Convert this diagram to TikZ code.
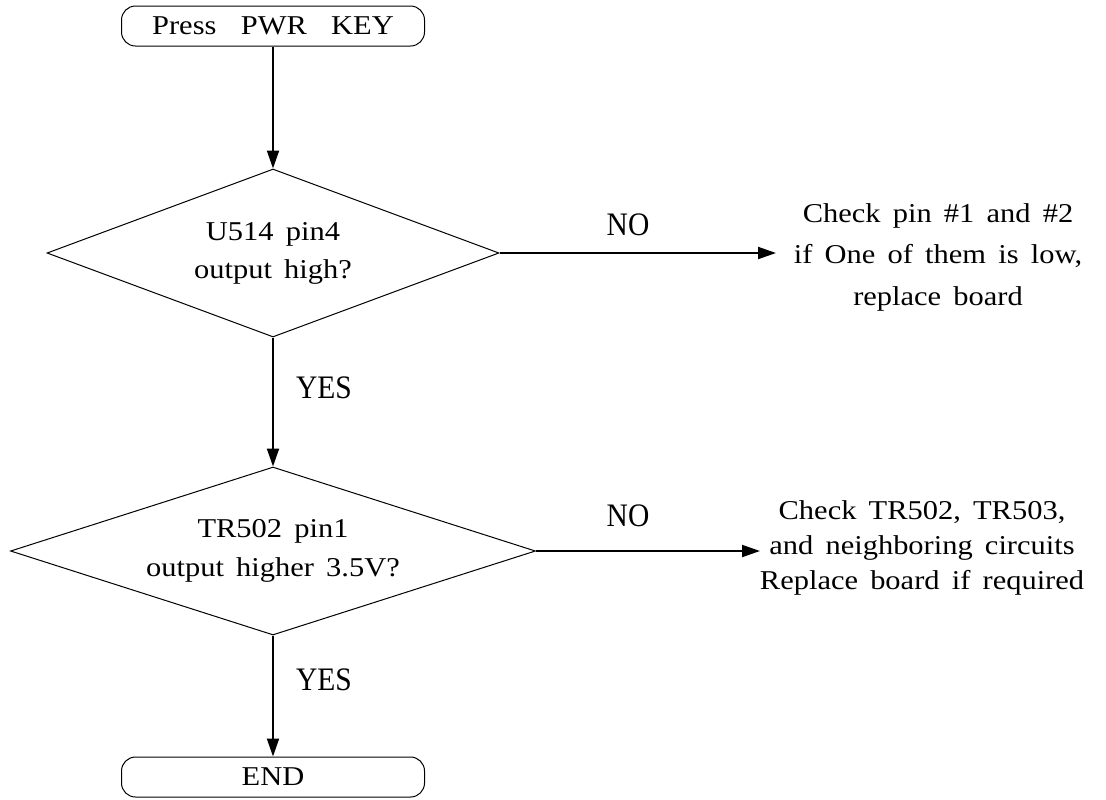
\documentclass[tikz,border=0pt]{standalone}
\usepackage{fontspec}
\setmainfont[FakeStretch=1.12,WordSpace=1.6]{Liberation Serif}
\newfontfamily\lblfont[FakeStretch=0.9]{Liberation Serif}
\usetikzlibrary{shapes.geometric,arrows.meta}
\tikzstyle{every node}=[font=\fontsize{13.6}{19}\selectfont]
\tikzstyle{term}=[draw,line width=0.5pt,rounded corners=7pt,minimum width=151.5pt,minimum height=20pt,inner sep=0pt]
\tikzstyle{decide}=[draw,diamond,line width=0.5pt,inner sep=0pt,align=center,minimum height=84pt]
\tikzstyle{act}=[align=center,inner sep=1pt]
\tikzstyle{lbl}=[font=\lblfont\fontsize{16.4}{18}\selectfont]
\tikzstyle{arr}=[-{Triangle[length=9pt,width=6pt]},line width=1pt]

\begin{document}
\begin{tikzpicture}[x=0.5pt,y=-0.5pt]
  \useasboundingbox (0,0) rectangle (1106,799);
  % flow
  \node[term] (start) at (273,26) {Press~~PWR~~KEY};
  \node[decide,shape aspect=2.69,minimum width=226pt] (d1) at (273,253) {U514 pin4\\output high?};
  \node[decide,shape aspect=3.125,minimum width=262.5pt] (d2) at (273,551) {TR502 pin1\\[0.5pt]output higher 3.5V?};
  \node[term] (stop) at (273,777) {END};
  % actions
  \node[act] (act1) at (938,257) {Check pin \#1 and \#2\\[1.75pt]if One of them is low,\\[1.75pt]replace board};
  \node[act] (act2) at (922,548) {Check TR502, TR503,\\[-1.5pt]and neighboring circuits\\[-1.5pt]Replace board if required};
  \coordinate (e1) at (776,253);
  \coordinate (e2) at (760,551);
  % connectors
  \draw[arr] (start) -- (d1);
  \draw[arr] (d1) -- (d2);
  \draw[arr] (d2) -- (stop);
  \draw[arr] (d1.east) -- (e1);
  \draw[arr] (d2.east) -- (e2);
  % labels
  \node[lbl] (no1) at (628,225) {NO};
  \node[lbl] (no2) at (628,516) {NO};
  \node[lbl] (yes1) at (324,388) {YES};
  \node[lbl] (yes2) at (324,680) {YES};
\end{tikzpicture}
\end{document}
